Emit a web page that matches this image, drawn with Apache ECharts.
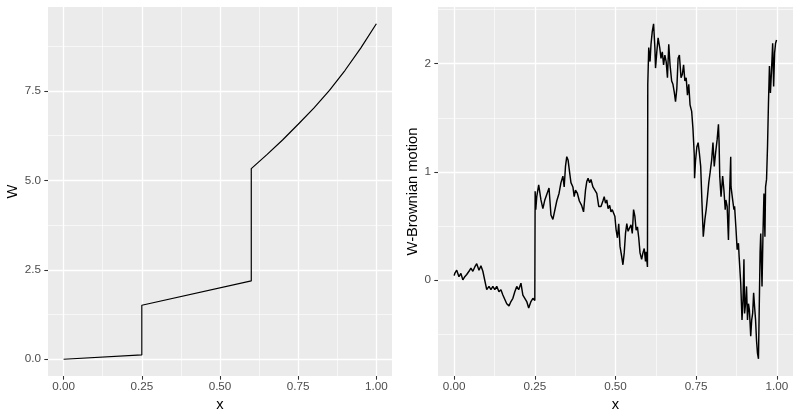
<!DOCTYPE html>
<html>
<head>
<meta charset="utf-8">
<script src="https://cdn.jsdelivr.net/npm/echarts@6.0.0/dist/echarts.min.js"></script>
<style>
html, body { margin: 0; padding: 0; background: #ffffff; }
#chart { width: 800px; height: 419px; }
</style>
</head>
<body>
<div id="chart"></div>
<script>
// left panel: W against x
var wX = [0, 0.25, 0.25, 0.6, 0.6, 0.65, 0.7, 0.75, 0.8, 0.85, 0.9, 0.95, 1];
var wY = [0, 0.12, 1.51, 2.19, 5.33, 5.72, 6.13, 6.57, 7.02, 7.52, 8.08, 8.70, 9.38];

// right panel: W-Brownian motion against x
var bmX = [
  0.000, 0.002, 0.008, 0.015, 0.021, 0.027, 0.033, 0.039, 0.046, 0.052, 0.058, 0.064, 0.070, 0.077, 0.083, 0.089, 0.095,
  0.101, 0.108, 0.114, 0.120, 0.126, 0.132, 0.139, 0.145, 0.151, 0.157, 0.163, 0.170, 0.176, 0.182, 0.188, 0.194,
  0.200, 0.207, 0.213, 0.219, 0.225, 0.231, 0.238, 0.244, 0.250,
  0.251, 0.253, 0.256, 0.262, 0.269, 0.275, 0.281, 0.287, 0.294, 0.300, 0.306, 0.312, 0.318, 0.325, 0.331, 0.337,
  0.341, 0.345, 0.349, 0.353, 0.358, 0.362, 0.368, 0.372, 0.376, 0.382, 0.388, 0.395, 0.401, 0.407, 0.411, 0.415,
  0.420, 0.424, 0.430, 0.436, 0.442, 0.448,
  0.455, 0.461, 0.465, 0.469, 0.473, 0.477, 0.482, 0.486, 0.490, 0.494, 0.498, 0.502, 0.506, 0.510, 0.514, 0.519,
  0.523, 0.527, 0.531, 0.535, 0.539, 0.544, 0.548, 0.552, 0.556, 0.560, 0.564, 0.568, 0.572, 0.576, 0.581, 0.585,
  0.589, 0.593, 0.595, 0.599,
  0.600, 0.603, 0.607, 0.610, 0.614, 0.618, 0.622, 0.624, 0.628, 0.632, 0.637, 0.641, 0.645, 0.649, 0.653, 0.657,
  0.661, 0.665, 0.669, 0.674, 0.678, 0.682, 0.686, 0.690, 0.694, 0.698, 0.703, 0.707, 0.711, 0.715, 0.719, 0.723,
  0.727, 0.731, 0.736, 0.740, 0.742, 0.744, 0.745,
  0.748, 0.752, 0.756, 0.760, 0.764, 0.768, 0.772, 0.777, 0.781, 0.785, 0.789, 0.793, 0.798, 0.802, 0.806, 0.810,
  0.815, 0.819, 0.821, 0.823, 0.827, 0.832, 0.836, 0.840, 0.842, 0.846, 0.850, 0.852, 0.857, 0.858, 0.863, 0.867,
  0.869, 0.873, 0.877, 0.881, 0.883,
  0.888, 0.892, 0.895, 0.898, 0.900, 0.903, 0.906, 0.909, 0.912, 0.915, 0.919, 0.922, 0.925, 0.928, 0.931, 0.934,
  0.937, 0.940, 0.943, 0.948, 0.950, 0.954, 0.957, 0.960, 0.963, 0.965, 0.968, 0.971, 0.974, 0.977, 0.980, 0.983,
  0.987, 0.990, 0.993, 0.996, 0.999
];
var bmY = [
  0.04, 0.06, 0.09, 0.03, 0.06, 0.00, 0.03, 0.05, 0.08, 0.11, 0.08, 0.12, 0.15, 0.09, 0.13, 0.08, 0.09,
  -0.09, -0.06, -0.09, -0.06, -0.09, -0.06, -0.11, -0.09, -0.14, -0.15, -0.22, -0.24, -0.20, -0.17, -0.11, -0.06,
  -0.09, -0.03, -0.14, -0.15, -0.20, -0.26, -0.20, -0.17, -0.19,
  0.82, 0.65, 0.77, 0.88, 0.74, 0.66, 0.74, 0.79, 0.85, 0.60, 0.56, 0.56, 0.73, 0.80, 0.90, 0.96,
  0.86, 1.05, 1.14, 1.11, 0.99, 0.90, 0.86, 0.77, 0.83, 0.80, 0.73, 0.69, 0.63, 0.83, 0.91, 0.94,
  0.90, 0.93, 0.86, 0.85, 0.80, 0.68,
  0.68, 0.73, 0.77, 0.71, 0.74, 0.66, 0.69, 0.63, 0.65, 0.62, 0.59, 0.46, 0.39, 0.52, 0.31, 0.22,
  0.14, 0.25, 0.43, 0.52, 0.45, 0.46, 0.51, 0.43, 0.65, 0.59, 0.46, 0.49, 0.39, 0.25, 0.19, 0.25,
  0.29, 0.17, 0.26, 0.12,
  1.81, 2.15, 2.02, 2.18, 2.30, 2.37, 2.15, 1.96, 2.11, 2.24, 2.15, 2.05, 2.11, 1.99, 2.08, 2.02,
  1.87, 2.18, 1.99, 1.84, 1.81, 1.74, 1.65, 1.77, 2.05, 2.08, 1.87, 1.90, 1.99, 1.84, 1.87, 1.71,
  1.81, 1.62, 1.56, 1.40, 1.28, 1.16, 0.94,
  1.10, 1.23, 1.27, 1.17, 1.05, 0.71, 0.40, 0.56, 0.65, 0.77, 0.90, 0.99, 1.11, 1.27, 1.05, 1.17,
  1.30, 1.44, 1.27, 0.96, 0.77, 0.96, 0.83, 0.65, 0.74, 0.68, 0.37, 0.65, 1.14, 0.86, 0.74, 0.65,
  0.68, 0.49, 0.28, 0.34, 0.22,
  -0.03, -0.37, -0.19, 0.19, -0.31, -0.22, -0.06, -0.37, -0.22, -0.28, -0.52, -0.37, -0.31, -0.12, -0.25, -0.37,
  -0.56, -0.68, -0.73, 0.25, 0.43, -0.06, 0.43, 0.80, 0.40, 0.86, 0.93, 1.23, 1.64, 1.98, 1.73, 1.91,
  2.19, 1.79, 2.10, 2.19, 2.22
];

// breaks
var xTicks = [0, 0.25, 0.5, 0.75, 1];
var xMinor = [0.125, 0.375, 0.625, 0.875];
var wTicks = [0, 2.5, 5, 7.5];
var wMinor = [1.25, 3.75, 6.25, 8.75];
var bmTicks = [0, 1, 2];
var bmMinor = [-0.5, 0.5, 1.5, 2.5];

var FONT = 'Liberation Sans, Arial, Helvetica, sans-serif';

function pairs(xs, ys) {
  var out = [];
  for (var i = 0; i < xs.length; i++) out.push([xs[i], ys[i]]);
  return out;
}

function majorAxis(g, pos, min, max, ticks, fmt, name, gap, margin) {
  return {
    type: 'value', gridIndex: g, position: pos, min: min, max: max,
    axisLine: { show: false, onZero: false },
    axisTick: { show: true, inside: false, length: 3.7, customValues: ticks, lineStyle: { color: '#333333', width: 1.07 } },
    axisLabel: { customValues: ticks, formatter: fmt, color: '#4D4D4D', fontSize: 11.7, fontFamily: FONT, margin: margin },
    splitLine: { show: true, lineStyle: { color: '#FFFFFF', width: 1.3 } },
    name: name, nameLocation: 'middle', nameGap: gap,
    nameTextStyle: { color: '#000000', fontSize: 14.7, fontFamily: FONT }
  };
}

function minorAxis(g, pos, min, max, ticks) {
  return {
    type: 'value', gridIndex: g, position: pos, min: min, max: max,
    axisLine: { show: false, onZero: false },
    axisTick: { show: false, customValues: ticks },
    axisLabel: { show: false, customValues: ticks },
    splitLine: { show: true, lineStyle: { color: '#FFFFFF', width: 0.6 } }
  };
}

function f2(v) { return v.toFixed(2); }
function f1(v) { return v.toFixed(1); }
function f0(v) { return v.toFixed(0); }

var chart = echarts.init(document.getElementById('chart'));
chart.setOption({
  animation: false,
  backgroundColor: '#FFFFFF',
  grid: [
    { left: 48, top: 7, width: 344, height: 369, show: true, backgroundColor: '#EBEBEB', borderWidth: 0, outerBoundsMode: 'none' },
    { left: 438, top: 7, width: 355, height: 369, show: true, backgroundColor: '#EBEBEB', borderWidth: 0, outerBoundsMode: 'none' }
  ],
  xAxis: [
    majorAxis(0, 'bottom', -0.05, 1.05, xTicks, f2, 'x', 21, 5),
    minorAxis(0, 'top', -0.05, 1.05, xMinor),
    majorAxis(1, 'bottom', -0.05, 1.05, xTicks, f2, 'x', 21, 5),
    minorAxis(1, 'top', -0.05, 1.05, xMinor)
  ],
  yAxis: [
    majorAxis(0, 'left', -0.469, 9.849, wTicks, f1, 'W', 27, 7),
    minorAxis(0, 'right', -0.469, 9.849, wMinor),
    majorAxis(1, 'left', -0.889, 2.525, bmTicks, f0, 'W-Brownian motion', 16, 7),
    minorAxis(1, 'right', -0.889, 2.525, bmMinor)
  ],
  series: [
    {
      type: 'line', xAxisIndex: 0, yAxisIndex: 0, data: pairs(wX, wY),
      showSymbol: false, lineStyle: { color: '#000000', width: 1.2 }, z: 5
    },
    {
      type: 'line', xAxisIndex: 2, yAxisIndex: 2, data: pairs(bmX, bmY),
      showSymbol: false, lineStyle: { color: '#000000', width: 1.45 }, z: 5
    }
  ]
});
window.addEventListener('resize', chart.resize);
</script>
</body>
</html>
